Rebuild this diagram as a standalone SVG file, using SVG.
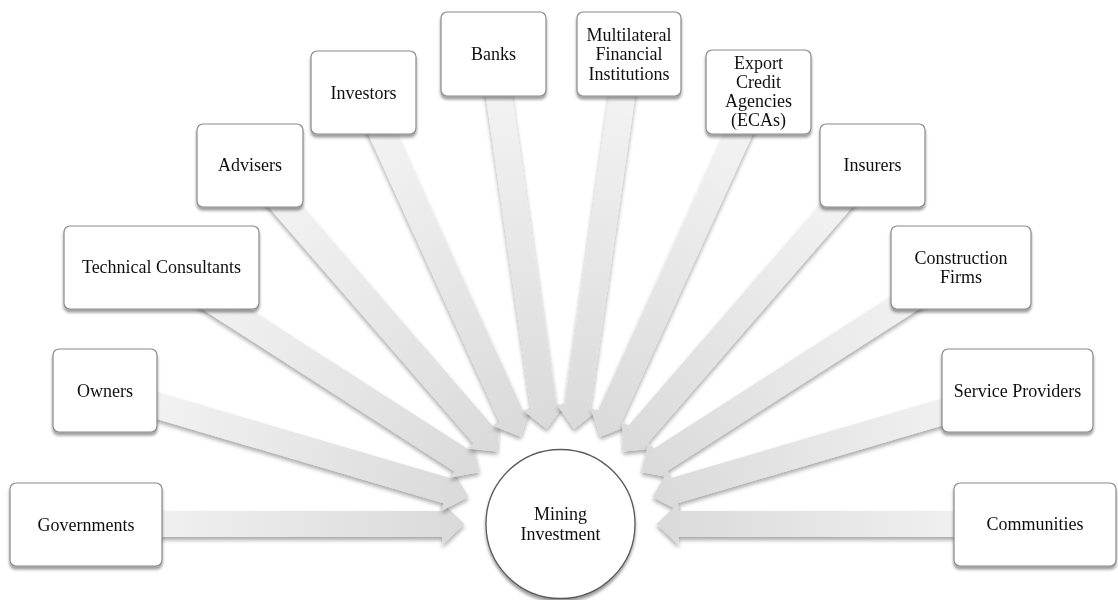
<svg xmlns="http://www.w3.org/2000/svg" xmlns:xlink="http://www.w3.org/1999/xlink" width="1118" height="600" viewBox="0 0 1118 600">
<style>
.box{fill:#ffffff;stroke:#8a8a8a;stroke-width:1.2}
.lbl{font-family:"Liberation Serif","Times New Roman",serif;font-size:18px;fill:#111;text-anchor:middle}
</style>
<defs>
<filter id="ash" filterUnits="userSpaceOnUse" x="0" y="0" width="1118" height="600">
<feGaussianBlur in="SourceAlpha" stdDeviation="2"/>
<feOffset dx="0" dy="2.5" result="b"/>
<feComponentTransfer><feFuncA type="linear" slope="0.35"/></feComponentTransfer>
<feMerge><feMergeNode/><feMergeNode in="SourceGraphic"/></feMerge>
</filter>
<filter id="bsh" filterUnits="userSpaceOnUse" x="0" y="0" width="1118" height="600">
<feGaussianBlur in="SourceAlpha" stdDeviation="1.8"/>
<feOffset dx="0" dy="2.5"/>
<feComponentTransfer><feFuncA type="linear" slope="0.4"/></feComponentTransfer>
<feMerge><feMergeNode/><feMergeNode in="SourceGraphic"/></feMerge>
</filter>
<linearGradient id="ag" gradientUnits="userSpaceOnUse" x1="-440" y1="0" x2="-100" y2="0">
<stop offset="0" stop-color="#f3f3f3"/>
<stop offset="1" stop-color="#dadada"/>
</linearGradient>
<path id="arr" d="M-475,-13 L-118,-13 L-118,-21 L-96,0 L-118,21 L-118,13 L-475,13 Z" fill="url(#ag)"/>
</defs>
<rect x="0" y="0" width="1118" height="600" fill="#ffffff"/>
<g id="connectors">
<g filter="url(#ash)"><use xlink:href="#arr" transform="translate(560.5,524) rotate(0)"/></g>
<g filter="url(#ash)"><use xlink:href="#arr" transform="translate(560.5,524) rotate(16.364)"/></g>
<g filter="url(#ash)"><use xlink:href="#arr" transform="translate(560.5,524) rotate(32.727)"/></g>
<g filter="url(#ash)"><use xlink:href="#arr" transform="translate(560.5,524) rotate(49.091)"/></g>
<g filter="url(#ash)"><use xlink:href="#arr" transform="translate(560.5,524) rotate(65.455)"/></g>
<g filter="url(#ash)"><use xlink:href="#arr" transform="translate(560.5,524) rotate(81.818)"/></g>
<g filter="url(#ash)"><use xlink:href="#arr" transform="translate(560.5,524) rotate(98.182)"/></g>
<g filter="url(#ash)"><use xlink:href="#arr" transform="translate(560.5,524) rotate(114.545)"/></g>
<g filter="url(#ash)"><use xlink:href="#arr" transform="translate(560.5,524) rotate(130.909)"/></g>
<g filter="url(#ash)"><use xlink:href="#arr" transform="translate(560.5,524) rotate(147.273)"/></g>
<g filter="url(#ash)"><use xlink:href="#arr" transform="translate(560.5,524) rotate(163.636)"/></g>
<g filter="url(#ash)"><use xlink:href="#arr" transform="translate(560.5,524) rotate(180)"/></g>
</g>
<g id="mining-investment" filter="url(#bsh)">
<circle cx="560.5" cy="524" r="74.5" fill="#ffffff" stroke="#5a5a5a" stroke-width="1.3"/>
<text class="lbl" x="560.5" y="520">Mining</text>
<text class="lbl" x="560.5" y="539.5">Investment</text>
</g>
<g id="governments" filter="url(#bsh)">
<rect class="box" x="10" y="483" width="152" height="83" rx="6"/>
<text class="lbl" x="86" y="530.5">Governments</text>
</g>
<g id="owners" filter="url(#bsh)">
<rect class="box" x="53" y="349" width="104" height="83" rx="6"/>
<text class="lbl" x="105" y="396.5">Owners</text>
</g>
<g id="technical-consultants" filter="url(#bsh)">
<rect class="box" x="64" y="226" width="195" height="83" rx="6"/>
<text class="lbl" x="161.5" y="273">Technical Consultants</text>
</g>
<g id="advisers" filter="url(#bsh)">
<rect class="box" x="197" y="124" width="106" height="83" rx="6"/>
<text class="lbl" x="250" y="171">Advisers</text>
</g>
<g id="investors" filter="url(#bsh)">
<rect class="box" x="311" y="51" width="105" height="83" rx="6"/>
<text class="lbl" x="363.5" y="98.5">Investors</text>
</g>
<g id="banks" filter="url(#bsh)">
<rect class="box" x="441" y="12" width="105" height="84" rx="6"/>
<text class="lbl" x="493.5" y="60">Banks</text>
</g>
<g id="multilateral" filter="url(#bsh)">
<rect class="box" x="577" y="12" width="104" height="84" rx="6"/>
<text class="lbl" x="629" y="40.5">Multilateral</text>
<text class="lbl" x="629" y="60">Financial</text>
<text class="lbl" x="629" y="79.5">Institutions</text>
</g>
<g id="export-credit" filter="url(#bsh)">
<rect class="box" x="706" y="50" width="105" height="84" rx="6"/>
<text class="lbl" x="758.5" y="68.5">Export</text>
<text class="lbl" x="758.5" y="87.8">Credit</text>
<text class="lbl" x="758.5" y="107.1">Agencies</text>
<text class="lbl" x="758.5" y="126.4">(ECAs)</text>
</g>
<g id="insurers" filter="url(#bsh)">
<rect class="box" x="820" y="124" width="105" height="83" rx="6"/>
<text class="lbl" x="872.5" y="171">Insurers</text>
</g>
<g id="construction" filter="url(#bsh)">
<rect class="box" x="891" y="226" width="140" height="83" rx="6"/>
<text class="lbl" x="961" y="263.5">Construction</text>
<text class="lbl" x="961" y="282.8">Firms</text>
</g>
<g id="service-providers" filter="url(#bsh)">
<rect class="box" x="942" y="349" width="151" height="83" rx="6"/>
<text class="lbl" x="1017.5" y="396.5">Service Providers</text>
</g>
<g id="communities" filter="url(#bsh)">
<rect class="box" x="954" y="483" width="162" height="83" rx="6"/>
<text class="lbl" x="1035" y="530">Communities</text>
</g>
</svg>
